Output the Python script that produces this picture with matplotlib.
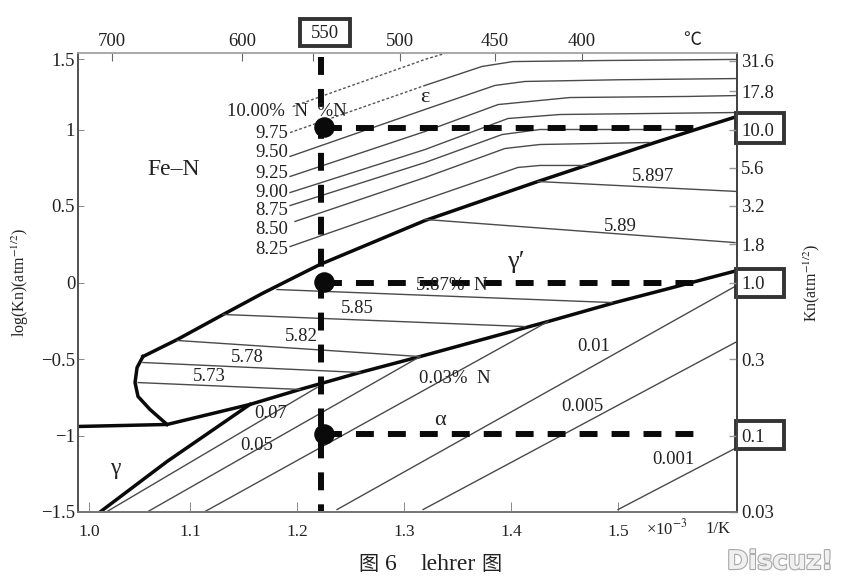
import numpy as np
import matplotlib.pyplot as plt
import matplotlib.patheffects as pe


class LehrerDiagram:
    def __init__(self):
        self.boundaries = [
            [(1.056, -0.484), (1.088, -0.373), (1.131, -0.209), (1.168, -0.07), (1.2215, 0.118),
             (1.3196, 0.405), (1.425, 0.660), (1.5346, 0.915), (1.5785, 1.013), (1.6112, 1.085)],
            [(1.056, -0.484), (1.0505, -0.556), (1.0486, -0.654), (1.0514, -0.745), (1.0626, -0.830),
             (1.0785, -0.928)],
            [(0.9953, -0.941), (1.0785, -0.928), (1.156, -0.797), (1.2028, -0.699), (1.2589, -0.588),
             (1.315, -0.484), (1.4346, -0.255), (1.4972, -0.131), (1.5439, -0.046), (1.6112, 0.078)],
            [(1.0159, -1.5), (1.0785, -1.17), (1.156, -0.797)],
        ]
        self.thin_lines = [
            [(1.0224, -1.497), (1.2187, -0.686)],
            [(1.0607, -1.497), (1.315, -0.484)],
            [(1.114, -1.497), (1.4346, -0.255)],
            [(1.2374, -1.484), (1.6093, -0.026)],
            [(1.3178, -1.484), (1.6112, -0.386)],
            [(1.5, -1.484), (1.6093, -1.085)],
            [(1.1813, -0.046), (1.4944, -0.131)],  # 5.87
            [(1.131, -0.209), (1.4131, -0.288)],
            [(1.088, -0.379), (1.315, -0.484)],
            [(1.056, -0.523), (1.2589, -0.588)],
            [(1.0514, -0.654), (1.2028, -0.699)],
            [(1.3196, 0.412), (1.6093, 0.261)],  # 5.89
            [(1.425, 0.660), (1.6112, 0.595)],
            [(1.3196, 1.288), (1.3729, 1.412), (1.4019, 1.444), (1.4879, 1.451), (1.6112, 1.458)],
            [(1.1935, 0.824), (1.3196, 1.131), (1.385, 1.288), (1.4131, 1.314), (1.5, 1.325), (1.6112, 1.333)],
            [(1.1935, 0.693), (1.3196, 0.987), (1.3879, 1.163), (1.4551, 1.209), (1.5654, 1.216), (1.6112, 1.222)],
            [(1.1935, 0.588), (1.3196, 0.869), (1.3972, 1.072), (1.4458, 1.098), (1.6112, 1.111)],
            [(1.1935, 0.503), (1.3196, 0.784), (1.3916, 0.967), (1.4271, 1.0), (1.5673, 1.0)],
            [(1.1981, 0.399), (1.3196, 0.686), (1.3944, 0.876), (1.4271, 0.902), (1.5299, 0.915)],
            [(1.1935, 0.235), (1.3196, 0.542), (1.4065, 0.752), (1.4271, 0.765), (1.4738, 0.765)],
        ]
        self.dotted_lines = [
            [(1.196, 1.150), (1.3196, 1.458), (1.3411, 1.503)],
            [(1.1935, 0.980), (1.3196, 1.288)],
        ]
        self.labels = [
            (1.1916, 0.974, "9.75", "right"), (1.1916, 0.85, "9.50", "right"), (1.1916, 0.712, "9.25", "right"),
            (1.1916, 0.588, "9.00", "right"), (1.1916, 0.471, "8.75", "right"), (1.1916, 0.346, "8.50", "right"),
            (1.1916, 0.216, "8.25", "right"), (1.1346, 1.118, "10.00%  N  %N", "left"),
            (1.5327, 0.693, "5.897", "center"), (1.5019, 0.366, "5.89", "center"),
            (1.3449, -0.02, "5.87%  N", "center"), (1.2561, -0.17, "5.85", "center"),
            (1.2037, -0.353, "5.82", "center"), (1.1533, -0.49, "5.78", "center"),
            (1.1178, -0.614, "5.73", "center"), (1.1757, -0.856, "0.07", "center"),
            (1.1626, -1.065, "0.05", "center"), (1.3477, -0.627, "0.03%  N", "center"),
            (1.4776, -0.418, "0.01", "center"), (1.4664, -0.81, "0.005", "center"),
            (1.5514, -1.157, "0.001", "center"),
        ]
        self.phases = [(1.3196, 1.209, "ε", 16), (1.4047, 0.137, "γ′", 19), (1.3336, -0.902, "α", 16),
                       (1.0299, -1.216, "γ", 17), (1.0850, 0.74, "Fe–N", 17)]

    def draw_lines(self):
        for line in self.boundaries:
            line = np.transpose(line)
            plt.plot(line[0], line[1], color="#0a0a0a", linewidth=2.5)
        for line in self.thin_lines:
            line = np.transpose(line)
            plt.plot(line[0], line[1], color="#4a4a4a", linewidth=1.0)
        for line in self.dotted_lines:
            line = np.transpose(line)
            plt.plot(line[0], line[1], color="#555555", linewidth=1.0, linestyle=(0, (2, 1.5)))

    def draw_guides(self):
        dashes = (0, (3, 2.35))
        plt.plot([1.2224, 1.2224], [1.477, -1.5], color="#0a0a0a", linewidth=4.3, linestyle=dashes)
        for y in [1.013, 0.0, -0.993]:
            plt.plot([1.2252, 1.5766], [y, y], color="#0a0a0a", linewidth=4.3, linestyle=dashes)
            plt.scatter([1.2252], [y + 0.005], s=190, color="#0a0a0a", zorder=5)

    def draw_boxes(self):
        ax = plt.gca()
        boxes = [(1.2028, 1.5425, 0.0467, 0.1765), (1.6103, 0.915, 0.0449, 0.19),
                 (1.6103, -0.092, 0.0449, 0.183), (1.6103, -1.085, 0.0449, 0.183)]
        for x, y, w, h in boxes:
            ax.add_patch(plt.Rectangle((x, y), w, h, fill=False, edgecolor="#333333", linewidth=2.8,
                                       clip_on=False, zorder=6))
        plt.text(1.2265, 1.625, "550", ha="center", va="center", fontsize=13.5, clip_on=False, color="#222222")

    def draw_fig(self):
        plt.rcParams["font.family"] = ["Liberation Serif", "Noto Sans CJK SC"]
        plt.rcParams["mathtext.fontset"] = "stix"
        fig = plt.figure(figsize=(8.49, 5.86), dpi=100)
        ax = fig.add_axes([78 / 849, 1 - 512 / 586, 659 / 849, 459 / 586])
        self.draw_lines()
        self.draw_guides()
        for x, y, s, ha in self.labels:
            plt.text(x, y, s, ha=ha, va="center", fontsize=13.5, color="#222222")
        for x, y, s, size in self.phases:
            plt.text(x, y, s, ha="center", va="center", fontsize=size, color="#222222")
        self.draw_boxes()
        plt.text(1.5458, -1.608, "×10$^{-3}$", ha="center", va="center", fontsize=12, color="#222222")
        plt.text(1.5935, -1.608, "1/K", ha="center", va="center", fontsize=12, color="#222222")
        plt.text(1.569, 1.582, "℃", ha="center", va="center", fontsize=13, color="#222222")
        plt.xlim(0.9953, 1.6112)
        plt.ylim(-1.5, 1.5)
        plt.xticks([1.0056, 1.1, 1.2, 1.3, 1.4, 1.5], ["1.0", "1.1", "1.2", "1.3", "1.4", "1.5"], fontsize=12.5)
        plt.yticks([1.46, 1, 0.5, 0, -0.5, -1, -1.5], ["1.5", "1", "0.5", "0", "−0.5", "−1", "−1.5"], fontsize=13.5)
        plt.tick_params(axis="both", direction="in", length=7, width=0.7, color="#888888", labelcolor="#222222")
        plt.tick_params(axis="x", pad=9)
        plt.tick_params(axis="y", length=4, pad=2)
        plt.ylabel("log(Kn)(atm$^{-1/2}$)", fontsize=11.5, labelpad=7, color="#222222")

        top = plt.twiny()
        plt.xlim(0.9953, 1.6112)
        plt.xticks([1.0271, 1.1486, 1.2149, 1.2965, 1.385, 1.4664], ["700", "600", "", "500", "450", "400"], fontsize=13.5)
        plt.tick_params(axis="x", direction="in", length=6, width=0.8, color="#666666", pad=2, labelcolor="#222222")

        plt.sca(ax)
        right = plt.twinx()
        plt.ylim(-1.5, 1.5)
        plt.yticks([1.45, 1.25, 1, 0.75, 0.5, 0.25, 0, -0.5, -1, -1.5],
                   ["31.6", "17.8", "10.0", "5.6", "3.2", "1.8", "1.0", "0.3", "0.1", "0.03"], fontsize=13.5)
        plt.tick_params(axis="y", direction="in", length=6, width=1.0, color="#999999", pad=3, labelcolor="#222222")
        plt.ylabel("Kn(atm$^{-1/2}$)", fontsize=11.5, labelpad=20, color="#222222")

        for a in [ax, top, right]:
            a.spines["left"].set_color("#555555")
            a.spines["right"].set_color("#444444")
            a.spines["top"].set_color("#aaaaaa")
            a.spines["bottom"].set_color("#777777")
            for spine in a.spines.values():
                spine.set_linewidth(1.2)

        # caption: the latin part is set larger than the hanzi
        fig.text(368 / 849, 1 - 565 / 586, "图", ha="center", va="center", fontsize=14.5, color="#222222")
        fig.text(391 / 849, 1 - 565 / 586, "6", ha="center", va="center", fontsize=17, color="#222222")
        fig.text(448 / 849, 1 - 565 / 586, "lehrer", ha="center", va="center", fontsize=17, color="#222222")
        fig.text(491 / 849, 1 - 565 / 586, "图", ha="center", va="center", fontsize=14.5, color="#222222")
        fig.text(780 / 849, 1 - 562 / 586, "Discuz!", ha="center", va="center", fontsize=18.6, family="DejaVu Sans",
                 weight="bold", color="#f0f0f0",
                 path_effects=[pe.withStroke(linewidth=1.6, foreground="#a8a8a8")])
        plt.savefig("out.png", dpi=100)


if __name__ == '__main__':
    diagram = LehrerDiagram()
    diagram.draw_fig()
